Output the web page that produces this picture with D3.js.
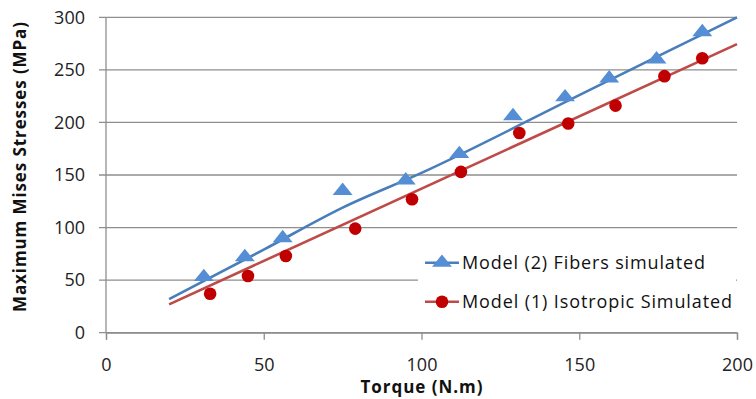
<!DOCTYPE html>
<html>
<head>
<meta charset="utf-8">
<script src="https://cdn.jsdelivr.net/npm/d3@7"></script>
<style>
body { margin: 0; background: #fff; }
svg { display: block; font-family: "Open Sans", "Noto Sans", sans-serif; }
</style>
</head>
<body>
<svg width="756" height="399"></svg>
<script>
// values
var fibersTorque = [31, 44, 56, 75, 95, 112, 129, 145.5, 159.5, 174.5, 189];
var fibersStress = [53, 72, 90, 135, 145, 170, 206, 224, 242, 260, 286];
var isoTorque = [33, 45, 57, 79, 97, 112.5, 131, 146.5, 161.5, 177, 189];
var isoStress = [37, 54, 73, 99, 127, 153, 190, 199, 216, 244, 261];
var fibersFitX = [20, 50, 75, 100, 150, 200];
var fibersFitY = [32, 79, 119, 152, 226, 300];
var isoFitX = [20, 200];
var isoFitY = [27, 274.5];
var xTicks = [0, 50, 100, 150, 200];
var yTicks = [0, 50, 100, 150, 200, 250, 300];
var legendNames = ['Model (2) Fibers simulated', 'Model (1) Isotropic Simulated'];
var legendWidths = [243, 270];

var svg = d3.select('svg');
var blueMark = '#558ed5', blueLine = '#4a7ebb';
var redMark = '#c00000', redLine = '#be4b48';
var gridColor = '#8e8e8e';

var x = d3.scaleLinear().domain([0, 200]).range([106, 737]);
var y = d3.scaleLinear().domain([0, 300]).range([332.7, 17.3]);

// grid lines
svg.append('g')
    .selectAll('line')
    .data(yTicks)
    .join('line')
    .attr('x1', 99).attr('x2', 737)
    .attr('y1', function(d) { return y(d); })
    .attr('y2', function(d) { return y(d); })
    .attr('stroke', gridColor)
    .attr('stroke-width', 1.3);

// axes
svg.append('line')
    .attr('x1', x(0)).attr('x2', x(0))
    .attr('y1', y(300)).attr('y2', y(0))
    .attr('stroke', gridColor).attr('stroke-width', 1.3);

svg.append('g')
    .attr('transform', 'translate(0,' + y(0) + ')')
    .call(d3.axisBottom(x).tickValues(xTicks).tickSize(7).tickPadding(19))
    .call(function(g) {
        g.select('.domain').attr('stroke', gridColor).attr('stroke-width', 1.3);
        g.selectAll('.tick line').attr('stroke', gridColor).attr('stroke-width', 1.3);
        g.selectAll('text').attr('font-size', 18).attr('fill', '#222').attr('font-family', '"Open Sans", sans-serif');
    });

svg.append('g')
    .attr('transform', 'translate(99,0)')
    .call(d3.axisLeft(y).tickValues(yTicks).tickSize(0).tickPadding(14))
    .call(function(g) {
        g.select('.domain').remove();
        g.selectAll('text').attr('font-size', 18).attr('fill', '#222').attr('font-family', '"Open Sans", sans-serif');
    });

// axis titles
svg.append('text')
    .attr('x', x(100) - 61).attr('y', 393)
    .attr('font-size', 17).attr('font-weight', 'bold')
    .attr('fill', '#111')
    .attr('textLength', 122).attr('lengthAdjust', 'spacing')
    .text('Torque (N.m)');

svg.append('text')
    .attr('transform', 'translate(26,312) rotate(-90)')
    .attr('font-size', 17).attr('font-weight', 'bold')
    .attr('fill', '#111')
    .attr('textLength', 290).attr('lengthAdjust', 'spacing')
    .text('Maximum Mises Stresses (MPa)');

// fitted lines
var line = d3.line()
    .x(function(d) { return x(d[0]); })
    .y(function(d) { return y(d[1]); })
    .curve(d3.curveMonotoneX);

svg.append('path')
    .datum(d3.zip(fibersFitX, fibersFitY))
    .attr('d', line)
    .attr('fill', 'none').attr('stroke', blueLine).attr('stroke-width', 2.6);

svg.append('path')
    .datum(d3.zip(isoFitX, isoFitY))
    .attr('d', line)
    .attr('fill', 'none').attr('stroke', redLine).attr('stroke-width', 2.6);

// markers
var tri = d3.symbol().type(d3.symbolTriangle).size(110);

svg.append('g')
    .selectAll('path')
    .data(d3.zip(fibersTorque, fibersStress))
    .join('path')
    .attr('d', tri)
    .attr('transform', function(d) { return 'translate(' + x(d[0]) + ',' + y(d[1]) + ') scale(1.25,0.9)'; })
    .attr('fill', blueMark);

svg.append('g')
    .selectAll('circle')
    .data(d3.zip(isoTorque, isoStress))
    .join('circle')
    .attr('cx', function(d) { return x(d[0]); })
    .attr('cy', function(d) { return y(d[1]); })
    .attr('r', 6.3)
    .attr('fill', redMark);

// legend
var legend = svg.append('g');
legend.append('rect')
    .attr('x', 418).attr('y', 246).attr('width', 318).attr('height', 72)
    .attr('fill', '#fff');

var rows = legend.selectAll('g')
    .data(legendNames)
    .join('g')
    .attr('transform', function(d, i) { return 'translate(425,' + (262.7 + i * 39) + ')'; });

rows.append('line')
    .attr('x1', 0).attr('x2', 34)
    .attr('stroke', function(d, i) { return i === 0 ? blueLine : redLine; })
    .attr('stroke-width', 2.6);

rows.each(function(d, i) {
    var g = d3.select(this);
    if (i === 0) {
        g.append('path').attr('d', tri)
            .attr('transform', 'translate(17,0) scale(1.25,0.9)')
            .attr('fill', blueMark);
    } else {
        g.append('circle').attr('cx', 17).attr('r', 6.3).attr('fill', redMark);
    }
});

rows.append('text')
    .attr('x', 37).attr('y', 6.5)
    .attr('font-size', 18)
    .attr('fill', '#111')
    .attr('textLength', function(d, i) { return legendWidths[i]; })
    .attr('lengthAdjust', 'spacing')
    .text(function(d) { return d; });
</script>
</body>
</html>
